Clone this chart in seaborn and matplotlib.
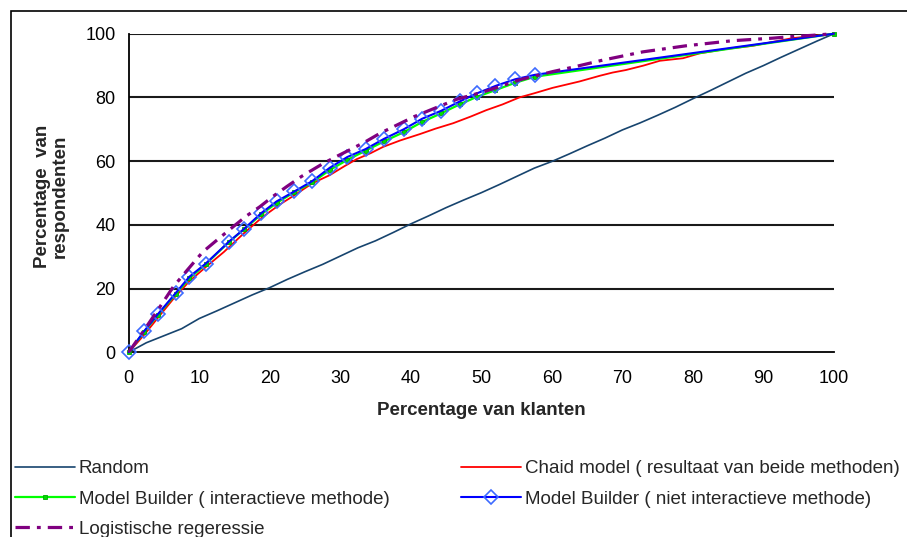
import matplotlib
matplotlib.use("Agg")
import matplotlib.pyplot as plt
from matplotlib.patches import Rectangle
import seaborn as sns

# Cumulative gains: percentage of customers (x) vs. percentage of respondents (y)
random_x = [0, 2.5, 5, 7.5, 10, 12.5, 15, 17.5, 20, 22.5, 25, 27.5, 30, 32.5, 35,
            37.5, 40, 42.5, 45, 47.5, 50, 52.5, 55, 57.5, 60, 62.5, 65, 67.5, 70,
            72.5, 75, 77.5, 80, 82.5, 85, 87.5, 90, 92.5, 95, 97.5, 100]
random_y = [0, 3.0, 5.2, 7.4, 10.6, 13.0, 15.5, 18.0, 20.3, 22.9, 25.3, 27.6, 30.2,
            32.8, 35.0, 37.6, 40.3, 42.8, 45.4, 47.8, 50.1, 52.6, 55.2, 57.8, 59.9,
            62.3, 64.8, 67.2, 69.8, 72.0, 74.4, 76.9, 79.6, 82.2, 84.9, 87.6, 90.0,
            92.6, 95.1, 97.6, 100]

chaid_x = [0, 2.2, 4.2, 6.6, 8.6, 10.9, 13.5, 16.3, 19, 21.5, 23.5, 26, 28.5, 30.5,
           32.3, 34.3, 36.1, 38.5, 41.3, 43.5, 46, 48.5, 50.7, 53, 55.4, 57.5, 60.1,
           62, 63.9, 66.8, 68.6, 70.5, 73, 75.3, 78.6, 80.9, 84.7, 88.5, 91.5, 94.1,
           97, 100]
chaid_y = [0, 5.5, 11, 17.5, 22.3, 26.7, 31.5, 37.3, 42.5, 46.5, 49.3, 53, 55.6,
           58.3, 60.6, 62.5, 64.5, 66.5, 68.5, 70.2, 71.9, 74, 76, 77.8, 80, 81.3,
           83, 84, 85, 86.8, 87.8, 88.6, 90, 91.5, 92.3, 93.8, 95.2, 96.2, 97.5,
           98.6, 99.3, 100]

mb_x = [0, 2.17, 4.15, 6.7, 8.6, 10.9, 14.2, 16.4, 18.8, 21.0, 23.5, 26.0, 28.5,
        31.0, 33.6, 36.2, 39.0, 41.6, 44.3, 47.0, 49.4, 52.0, 54.8, 57.6, 100]
mb_inter_y = [0, 6.4, 11.8, 18.4, 23.2, 27.6, 34.6, 38.7, 43.3, 46.9, 50.3, 53.3,
              57.2, 60.4, 63.3, 66.2, 69.1, 72.3, 75.0, 77.9, 80.2, 82.3, 84.6,
              86.5, 100]
mb_niet_y = [0, 6.6, 12.0, 18.7, 23.7, 27.8, 34.7, 38.8, 43.7, 47.4, 50.5, 53.7,
             57.9, 61.3, 63.8, 67.0, 70.0, 73.3, 75.8, 78.8, 81.3, 83.6, 85.7,
             87.1, 100]

logit_x = [0, 2.2, 4.2, 6.3, 8.3, 10.5, 12.5, 14.8, 16.7, 18.6, 20.5, 22.4, 24.5,
           27.6, 29.5, 31.3, 33.5, 35.6, 38, 40.5, 43.6, 46.5, 50.7, 55.4, 60.1,
           63.2, 67.2, 72.9, 79, 85.6, 91.3, 94.1, 97, 100]
logit_y = [0, 7, 13.5, 20.5, 25.8, 31.5, 35.2, 39.4, 42.8, 45.7, 49, 52, 55.2,
           59.3, 61.5, 63.5, 66, 68.7, 71.3, 74, 76.8, 79.4, 82, 85.5, 88.1, 89.6,
           91.7, 94.3, 96.2, 97.8, 98.6, 99.1, 99.5, 100]

x_ticks = [0, 10, 20, 30, 40, 50, 60, 70, 80, 90, 100]
y_ticks = [0, 20, 40, 60, 80, 100]

labels = ["Random",
          "Chaid model ( resultaat van beide methoden)",
          "Model Builder ( interactieve methode)",
          "Model Builder ( niet interactieve methode)",
          "Logistische regeressie"]

sns.set_style("white")
plt.rcParams["font.family"] = ["Liberation Sans", "DejaVu Sans"]

W, H = 907, 537
fig = plt.figure(figsize=(W / 100, H / 100), dpi=100)
ax = fig.add_axes([128.7 / W, 1 - 352.3 / H, (834 - 128.7) / W, (352.3 - 33.7) / H])

# Horizontal grid
for yv in y_ticks[1:]:
    ax.axhline(yv, color="#1a1a1a", lw=1.5, zorder=1)

sns.lineplot(x=random_x, y=random_y, ax=ax, color="#17446e", lw=1.2,
             label=labels[0], clip_on=False, zorder=3)
sns.lineplot(x=chaid_x, y=chaid_y, ax=ax, color="#ff0000", lw=1.3,
             label=labels[1], clip_on=False, zorder=3)
sns.lineplot(x=mb_x, y=mb_inter_y, ax=ax, color="#00ff00", lw=1.6,
             marker="s", markersize=3.5, markerfacecolor="#00dd00",
             markeredgecolor="#00aa00", markeredgewidth=0.6,
             label=labels[2], clip_on=False, zorder=4)
sns.lineplot(x=mb_x, y=mb_niet_y, ax=ax, color="#0000ff", lw=1.5,
             marker="D", markersize=7.5, markerfacecolor="none",
             markeredgecolor="#3d6bff", markeredgewidth=1.2,
             markevery=list(range(len(mb_x) - 1)),
             label=labels[3], clip_on=False, zorder=5)
sns.lineplot(x=logit_x, y=logit_y, ax=ax, color="#800080", lw=2.3,
             linestyle=(0, (4.5, 2.2, 1.2, 2.2)),
             label=labels[4], clip_on=False, zorder=6)

lines_by_label = {h.get_label(): h for h in ax.get_lines() if h.get_label() in labels}
ax.get_legend().remove()

ax.set_xlim(0, 100)
ax.set_ylim(0, 100)
ax.set_xticks(x_ticks)
ax.set_yticks(y_ticks)
for s in ["top", "right"]:
    ax.spines[s].set_visible(False)
for s in ["left", "bottom"]:
    ax.spines[s].set_color("black")
    ax.spines[s].set_linewidth(1.3)
ax.tick_params(axis="both", direction="out", length=5, width=1.2, color="black",
               labelsize=13, labelcolor="black")
ax.tick_params(axis="x", pad=8)
ax.tick_params(axis="y", pad=4.5)

ax.set_xlabel("Percentage van klanten", fontsize=13.5, fontweight="bold")
ax.set_ylabel("Percentage  van\nrespondenten", fontsize=13.5, fontweight="bold",
              linespacing=1.05)
ax.xaxis.set_label_coords(0.5, -0.155)
ax.yaxis.set_label_coords(-0.085, 0.49)

# Legend: two columns placed below the plot
leg_kw = dict(frameon=False, fontsize=13.5, handlelength=3.2, handletextpad=0.2,
              labelspacing=0.71, borderpad=0, borderaxespad=0, loc="upper left")
left_idx = (0, 2, 4)
right_idx = (1, 3)
fig.legend([lines_by_label[labels[i]] for i in left_idx], [labels[i] for i in left_idx],
           bbox_to_anchor=(15 / W, 1 - 460 / H), **leg_kw)
fig.legend([lines_by_label[labels[i]] for i in right_idx], [labels[i] for i in right_idx],
           bbox_to_anchor=(461 / W, 1 - 460 / H), **leg_kw)

# Chart-area border
fig.add_artist(Rectangle((11 / W, -0.1), 1.2, 1 - 11 / H + 0.1,
                         transform=fig.transFigure, fill=False,
                         edgecolor="black", lw=1.2))

fig.savefig("out.png", dpi=100)
